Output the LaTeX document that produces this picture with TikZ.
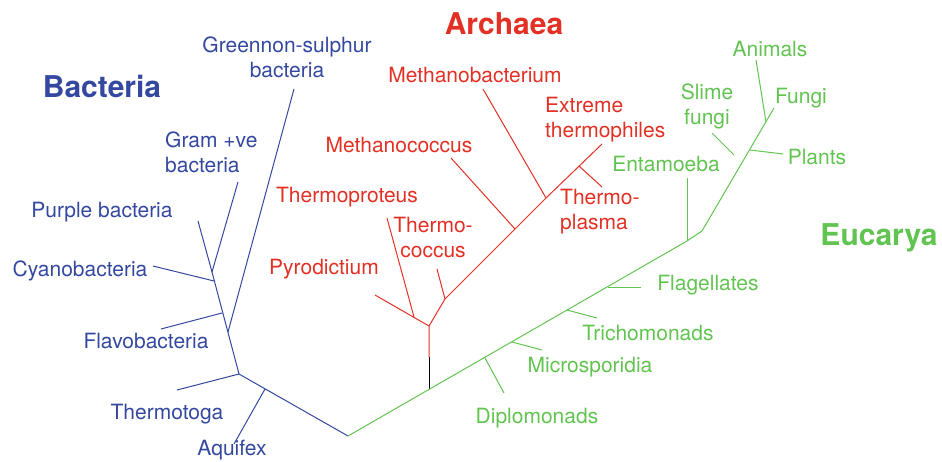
\documentclass[tikz,border=0pt]{standalone}
\usepackage{fontspec}
\setmainfont{TeX Gyre Heros}
\usetikzlibrary{positioning}
\definecolor{bactblue}{RGB}{52,72,160}
\definecolor{archred}{RGB}{226,48,36}
\definecolor{eucgreen}{RGB}{98,196,80}

\begin{document}
\begin{tikzpicture}[x=1pt,y=-1pt, every node/.style={font=\fontsize{21}{25}\selectfont, inner sep=0pt, yshift=-2pt},
    branch/.style={line width=1pt}, kingdom/.style={font=\fontsize{30}{32}\selectfont\bfseries}]
    \useasboundingbox (0,0) rectangle (942,461);
    % branch points
    \coordinate (root) at (348,434);
    \coordinate (b1) at (239,372);   \coordinate (baq) at (265,387);
    \coordinate (b2) at (228,330);   \coordinate (bfl) at (222,311);
    \coordinate (bcy) at (214,279);  \coordinate (b5) at (212,270);
    \coordinate (e0) at (429,387);   \coordinate (a0) at (429,355);
    \coordinate (a1) at (429,324);   \coordinate (apr) at (414,315);
    \coordinate (a2) at (445,297);   \coordinate (a3) at (515,227);
    \coordinate (a4) at (546,196);   \coordinate (a5) at (579,164);
    \coordinate (edi) at (485,356);  \coordinate (emi) at (512,340);
    \coordinate (etr) at (567,308);  \coordinate (efl) at (608,285);
    \coordinate (e5) at (687,239);   \coordinate (e6) at (702,229);
    \coordinate (epl) at (750,148);  \coordinate (ean) at (766,120);
    % tips
    \coordinate (t-aq) at (234,442); \coordinate (t-tg) at (177,388);
    \coordinate (t-gs) at (294,87);  \coordinate (t-fl) at (161,327);
    \coordinate (t-cy) at (153,264); \coordinate (t-pu) at (198,219);
    \coordinate (t-gr) at (238,180);
    \coordinate (t-py) at (375,293); \coordinate (t-tp) at (387,216);
    \coordinate (t-tc) at (437,267); \coordinate (t-mc) at (451,156);
    \coordinate (t-mb) at (483,87);  \coordinate (t-ex) at (602,142);
    \coordinate (t-pl) at (602,185);
    \coordinate (t-di) at (504,391); \coordinate (t-mi) at (542,348);
    \coordinate (t-tr) at (597,316); \coordinate (t-fg) at (641,285);
    \coordinate (t-en) at (687,176); \coordinate (t-fu) at (774,106);
    \coordinate (t-an) at (756,58);  \coordinate (t-ps) at (783,152);
    \coordinate (s-sl) at (734,153); \coordinate (t-sl) at (712,131);

    % Bacteria
    \draw[branch, bactblue] (root) -- (b1) -- (b5) -- (t-gr);
    \draw[branch, bactblue] (b5) -- (t-pu);
    \draw[branch, bactblue] (baq) -- (t-aq);
    \draw[branch, bactblue] (b1) -- (t-tg);
    \draw[branch, bactblue] (b2) -- (t-gs);
    \draw[branch, bactblue] (bfl) -- (t-fl);
    \draw[branch, bactblue] (bcy) -- (t-cy);
    % Archaea
    \draw[branch, black] (e0) -- (a0);
    \draw[branch, archred] (a0) -- (a1) -- (t-py);
    \draw[branch, archred] (apr) -- (t-tp);
    \draw[branch, archred] (a1) -- (a2) -- (a3) -- (a4) -- (t-ex);
    \draw[branch, archred] (a2) -- (t-tc);
    \draw[branch, archred] (a3) -- (t-mc);
    \draw[branch, archred] (a4) -- (t-mb);
    \draw[branch, archred] (a5) -- (t-pl);
    % Eucarya
    \draw[branch, eucgreen] (root) -- (e5) -- (e6) -- (t-fu);
    \draw[branch, eucgreen] (edi) -- (t-di);
    \draw[branch, eucgreen] (emi) -- (t-mi);
    \draw[branch, eucgreen] (etr) -- (t-tr);
    \draw[branch, eucgreen] (efl) -- (t-fg);
    \draw[branch, eucgreen] (e5) -- (t-en);
    \draw[branch, eucgreen] (epl) -- (t-ps);
    \draw[branch, eucgreen] (ean) -- (t-an);
    \draw[branch, eucgreen] (s-sl) -- (t-sl);

    % labels
    \node[kingdom, bactblue] (bacteria) at (102,84) {Bacteria};
    \node[kingdom, archred] (archaea) at (504,22) {Archaea};
    \node[kingdom, eucgreen] (eucarya) at (879,236) {Eucarya};

    \node[bactblue, align=center] (greennon) at (287,55) {Greennon-sulphur\\bacteria};
    \node[bactblue, align=left, anchor=west] (gram) at (165,150) {Gram +ve\\bacteria};
    \node[bactblue] (purple) at (102,210) {Purple bacteria};
    \node[bactblue] (cyano) at (80,269) {Cyanobacteria};
    \node[bactblue] (flavo) at (146,339) {Flavobacteria};
    \node[bactblue] (thermotoga) at (167,412) {Thermotoga};
    \node[bactblue] (aquifex) at (232,448) {Aquifex};

    \node[archred] (methanobact) at (475,73) {Methanobacterium};
    \node[archred, align=left, anchor=west] (extreme) at (545,118) {Extreme\\thermophiles};
    \node[archred] (methanococ) at (399,143) {Methanococcus};
    \node[archred, align=left, anchor=west] (thermoplasma) at (560,210) {Thermo-\\plasma};
    \node[archred] (thermoprot) at (347,195) {Thermoproteus};
    \node[archred, align=center] (thermococ) at (433,235) {Thermo-\\coccus};
    \node[archred] (pyrodict) at (324,267) {Pyrodictium};

    \node[eucgreen] (animals) at (770,47) {Animals};
    \node[eucgreen, align=center] (slime) at (707,104) {Slime\\fungi};
    \node[eucgreen] (fungi) at (801,96) {Fungi};
    \node[eucgreen] (plants) at (817,155) {Plants};
    \node[eucgreen] (entamoeba) at (666,162) {Entamoeba};
    \node[eucgreen] (flagellates) at (708,283) {Flagellates};
    \node[eucgreen] (trichomon) at (648,331) {Trichomonads};
    \node[eucgreen] (microspor) at (590,365) {Microsporidia};
    \node[eucgreen] (diplomon) at (537,416) {Diplomonads};
\end{tikzpicture}
\end{document}
